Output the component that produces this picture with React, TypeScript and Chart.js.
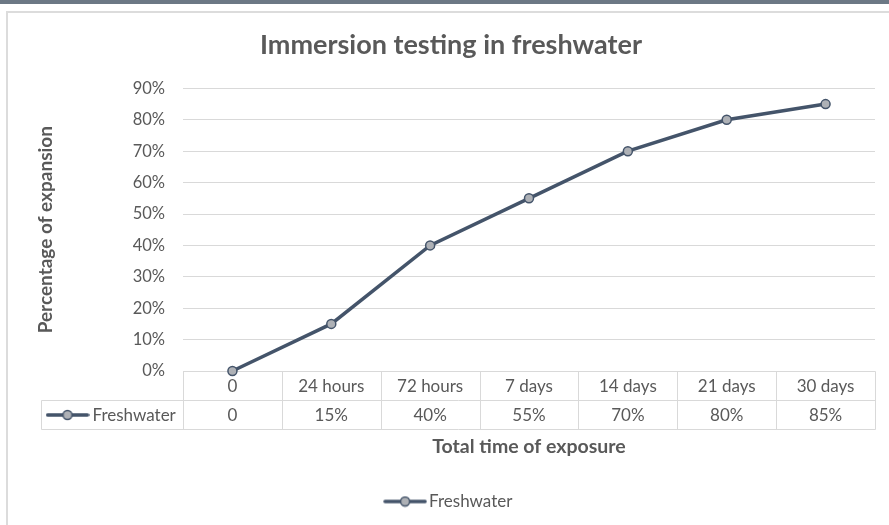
import React, { useEffect, useRef } from "react";
import { Chart, registerables } from "chart.js";

Chart.register(...registerables);

const TITLE = "Immersion testing in freshwater";
const X_TITLE = "Total time of exposure";
const Y_TITLE = "Percentage of expansion";
const SERIES_NAME = "Freshwater";
const categories = ["0", "24 hours", "72 hours", "7 days", "14 days", "21 days", "30 days"];
const freshwater = [0, 0.15, 0.4, 0.55, 0.7, 0.8, 0.85];
const yTicks = [0, 0.1, 0.2, 0.3, 0.4, 0.5, 0.6, 0.7, 0.8, 0.9];

const LINE = "#44546a";
const MARKER = "#aeb1b6";
const TEXT = "#595959";
const GRID = "#d9d9d9";
const FONT = "Lato";

const fmtAxis = (v: number) => `${Math.round(v * 100)}%`;
const fmtCell = (v: number) => (v === 0 ? "0" : `${Math.round(v * 100)}%`);

function makeSymbol(): HTMLCanvasElement {
  const c = document.createElement("canvas");
  c.width = 44;
  c.height = 12;
  const g = c.getContext("2d")!;
  g.strokeStyle = LINE;
  g.lineWidth = 3.5;
  g.lineCap = "round";
  g.beginPath();
  g.moveTo(2, 6);
  g.lineTo(42, 6);
  g.stroke();
  g.beginPath();
  g.arc(22, 6, 4.5, 0, Math.PI * 2);
  g.fillStyle = MARKER;
  g.fill();
  g.lineWidth = 1.5;
  g.stroke();
  return c;
}

export default function App() {
  const ref = useRef<HTMLCanvasElement | null>(null);

  useEffect(() => {
    document.body.style.margin = "0";
    let chart: Chart | null = null;
    let cancelled = false;
    const symbol = makeSymbol();

    const framePlugin = {
      id: "frame",
      beforeDraw(c: any) {
        const ctx = c.ctx;
        ctx.save();
        ctx.fillStyle = "#ffffff";
        ctx.fillRect(0, 0, c.width, c.height);
        ctx.fillStyle = "#6c7885";
        ctx.fillRect(0, 0, c.width, 4);
        ctx.strokeStyle = "#dcdcdc";
        ctx.lineWidth = 2;
        ctx.beginPath();
        ctx.moveTo(6, 12);
        ctx.lineTo(c.width, 12);
        ctx.moveTo(7, 11);
        ctx.lineTo(7, c.height);
        ctx.stroke();
        ctx.restore();
      },
    };

    const tablePlugin = {
      id: "dataTable",
      beforeDatasetsDraw(c: any) {
        const ctx = c.ctx;
        const area = c.chartArea;
        const xs = c.scales.x;
        const n = categories.length;
        const left = Math.round(area.left) + 0.5;
        const right = Math.round(area.right) + 0.5;
        const colW = (right - left) / n;
        const rowH = 29;
        const top = Math.round(area.bottom) + 0.5;
        const mid = top + rowH;
        const bottom = mid + rowH;
        const headLeft = left - 142;
        ctx.save();
        ctx.strokeStyle = GRID;
        ctx.lineWidth = 1;
        ctx.beginPath();
        ctx.moveTo(left, top);
        ctx.lineTo(right, top);
        ctx.moveTo(headLeft, mid);
        ctx.lineTo(right, mid);
        ctx.moveTo(headLeft, bottom);
        ctx.lineTo(right, bottom);
        ctx.moveTo(headLeft, mid);
        ctx.lineTo(headLeft, bottom);
        for (let i = 0; i <= n; i++) {
          const x = Math.round(left + i * colW - 0.5) + 0.5;
          ctx.moveTo(x, top);
          ctx.lineTo(x, bottom);
        }
        ctx.stroke();
        ctx.fillStyle = TEXT;
        ctx.font = `17px ${FONT}`;
        ctx.textAlign = "center";
        ctx.textBaseline = "middle";
        for (let i = 0; i < n; i++) {
          const cx = xs.getPixelForValue(i);
          ctx.fillText(categories[i], cx, top + rowH / 2 + 1);
          ctx.fillText(fmtCell(freshwater[i]), cx, mid + rowH / 2 + 1);
        }
        ctx.drawImage(symbol, headLeft + 4, mid + rowH / 2 - 6);
        ctx.textAlign = "left";
        ctx.fillText(SERIES_NAME, headLeft + 51, mid + rowH / 2 + 1);
        ctx.restore();
      },
    };

    const build = () => {
      if (cancelled || !ref.current) return;
      chart = new Chart(ref.current, {
        type: "line",
        data: {
          labels: categories,
          datasets: [
            {
              label: SERIES_NAME,
              data: freshwater,
              borderColor: LINE,
              borderWidth: 3.5,
              pointRadius: 4.5,
              pointBorderWidth: 1.5,
              pointBackgroundColor: MARKER,
              pointBorderColor: LINE,
              tension: 0,
              clip: false,
            },
          ],
        },
        options: {
          animation: false,
          responsive: false,
          events: [],
          layout: { padding: { left: 27, right: 14, top: 14, bottom: 5 } },
          plugins: {
            tooltip: { enabled: false },
            title: {
              display: true,
              text: TITLE,
              color: TEXT,
              font: { family: FONT, size: 27, weight: "bold" },
              padding: { top: 15, bottom: 27 },
            },
            legend: {
              position: "bottom",
              labels: {
                usePointStyle: true,
                pointStyle: symbol as any,
                pointStyleWidth: 31,
                color: TEXT,
                font: { family: FONT, size: 17 },
                padding: 10,
              },
            },
          },
          scales: {
            x: {
              type: "category",
              offset: true,
              grid: { display: false },
              border: { display: false },
              ticks: { display: false },
              title: {
                display: true,
                text: X_TITLE,
                color: TEXT,
                font: { family: FONT, size: 19.5, weight: "bold" },
                padding: { top: 63, bottom: 25 },
              },
              afterFit(s: any) {
                s.height = 112;
              },
            },
            y: {
              min: 0,
              max: 0.9,
              afterBuildTicks(s: any) {
                s.ticks = yTicks.map((v) => ({ value: v }));
              },
              grid: { color: GRID, drawTicks: false, lineWidth: 1 },
              border: { display: false },
              ticks: {
                color: TEXT,
                font: { family: FONT, size: 16.5 },
                padding: 18,
                callback: (v: any) => fmtAxis(Number(v)),
              },
              title: {
                display: true,
                text: Y_TITLE,
                color: TEXT,
                font: { family: FONT, size: 19, weight: "bold" },
                padding: { top: 7, bottom: 0 },
              },
              afterFit(s: any) {
                s.width = 156;
              },
            },
          },
        },
        plugins: [framePlugin, tablePlugin],
      });
    };

    Promise.all([
      document.fonts.load(`16px ${FONT}`),
      document.fonts.load(`bold 26px ${FONT}`),
    ])
      .catch(() => null)
      .then(build);

    return () => {
      cancelled = true;
      if (chart) chart.destroy();
    };
  }, []);

  return (
    <canvas
      ref={ref}
      width={889}
      height={525}
      style={{ display: "block", width: 889, height: 525 }}
    />
  );
}
